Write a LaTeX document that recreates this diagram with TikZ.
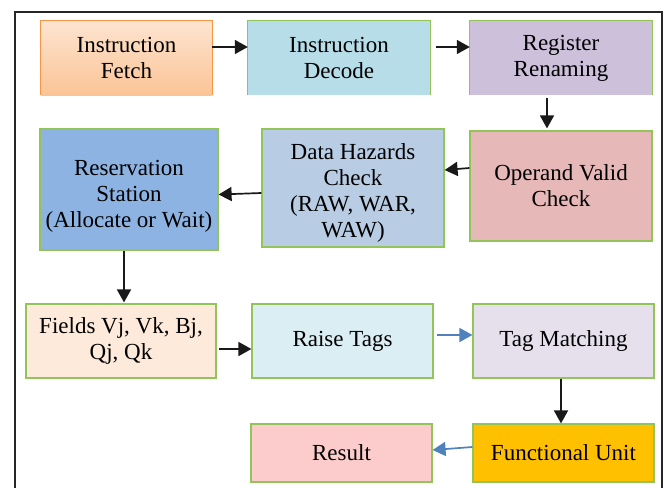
\documentclass[tikz,border=0pt]{standalone}
\usepackage{fontspec}
\setmainfont{Liberation Serif}
\usetikzlibrary{arrows.meta}
\definecolor{bordergreen}{RGB}{146,196,90}
\definecolor{fetchtop}{RGB}{253,228,208}
\definecolor{fetchbot}{RGB}{251,196,150}
\definecolor{fetchborder}{RGB}{247,150,70}
\definecolor{decodefill}{RGB}{183,221,232}
\definecolor{renamefill}{RGB}{204,192,218}
\definecolor{resvfill}{RGB}{141,179,226}
\definecolor{hazfill}{RGB}{184,204,228}
\definecolor{operfill}{RGB}{230,185,184}
\definecolor{fieldsfill}{RGB}{253,234,218}
\definecolor{raisefill}{RGB}{219,238,244}
\definecolor{tagfill}{RGB}{229,224,236}
\definecolor{funcfill}{RGB}{255,192,0}
\definecolor{resultfill}{RGB}{252,204,204}
\definecolor{arrowblue}{RGB}{79,129,189}
\definecolor{arrowblack}{RGB}{25,25,25}
\tikzset{
  txt/.style={align=center, inner sep=0pt, font=\fontsize{23}{26}\selectfont, text=black},
  box/.style={txt, draw=bordergreen, line width=1.2pt},
  openbox/.style={txt, draw=none},
  blk/.style={draw=arrowblack, line width=1.7pt, -{Triangle[length=13pt,width=14pt]}},
  blu/.style={draw=arrowblue, line width=1.7pt, -{Triangle[length=13pt,width=14pt]}},
}
\begin{document}
\begin{tikzpicture}[x=1pt,y=-1pt]
\useasboundingbox (0,0) rectangle (665,488);
\fill[white] (0,0) rectangle (665,488);
% outer frame
\draw[line width=1.2pt, draw=black!85] (15,488) -- (15,12) -- (662,12) -- (662,488);

% row 1 (boxes cut off at the bottom)
\node[openbox, top color=fetchtop, bottom color=fetchbot, minimum width=171pt, minimum height=74pt] (fetch) at (126.5,58) {Instruction\\Fetch};
\draw[fetchborder, line width=1.2pt] (fetch.south west) -- (fetch.north west) -- (fetch.north east) -- (fetch.south east);
\node[openbox, fill=decodefill, minimum width=182pt, minimum height=74pt] (decode) at (339,58) {Instruction\\Decode};
\draw[bordergreen, line width=1.2pt] (decode.south west) -- (decode.north west) -- (decode.north east) -- (decode.south east);
\node[openbox, fill=renamefill, minimum width=182pt, minimum height=74pt] (rename) at (561,58) {Register\\Renaming};
\draw[bordergreen, line width=1.2pt] (rename.south west) -- (rename.north west) -- (rename.north east) -- (rename.south east);

% row 2
\node[box, fill=resvfill, minimum width=178pt, minimum height=121pt] (resv) at (129,189.5) {};
\node[txt] (resvtext) at ([yshift=-7pt]resv.center) {Reservation\\Station\\(Allocate or Wait)};
\node[box, fill=hazfill, minimum width=182pt, minimum height=118pt] (haz) at (353,188) {};
\node[txt] (haztext) at ([yshift=-5pt]haz.center) {Data Hazards\\Check\\(RAW, WAR,\\WAW)};
\node[box, fill=operfill, minimum width=182pt, minimum height=110pt] (oper) at (561,186) {Operand Valid\\Check};

% row 3
\node[box, fill=fieldsfill, minimum width=190pt, minimum height=74pt] (fields) at (121,341) {Fields Vj, Vk, Bj,\\Qj, Qk};
\node[box, fill=raisefill, minimum width=181pt, minimum height=74pt] (raise) at (342.5,341) {Raise Tags};
\node[box, fill=tagfill, minimum width=181pt, minimum height=74pt] (tagm) at (563.5,341) {Tag Matching};

% row 4
\node[box, fill=resultfill, minimum width=181pt, minimum height=58pt] (result) at (341.5,453) {Result};
\node[box, fill=funcfill, minimum width=181pt, minimum height=58pt] (func) at (563.5,453) {Functional Unit};

% connectors
\draw[blk] ([yshift=11pt]fetch.east) -- ([yshift=11pt]decode.west);
\draw[blk] ([xshift=6pt,yshift=11pt]decode.east) -- ([yshift=11pt]rename.west);
\draw[blk] ([xshift=-14pt,yshift=-3pt]rename.south) -- ([xshift=-14pt,yshift=2pt]oper.north);
\draw[blk] ([yshift=18pt]oper.west) -- ([yshift=18pt]haz.east);
\draw[blk] ([yshift=-5pt]haz.west) -- ([yshift=-5pt]resv.east);
\draw[blk] ([xshift=-5pt]resv.south) -- ([xshift=3pt,yshift=1pt]fields.north);
\draw[blk] ([xshift=2pt,yshift=-8pt]fields.east) -- ([yshift=-8pt]raise.west);
\draw[blu] ([xshift=3pt,yshift=6pt]raise.east) -- ([yshift=6pt]tagm.west);
\draw[blk] ([xshift=-2.5pt]tagm.south) -- ([xshift=-2.5pt]func.north);
\draw[blu] ([yshift=6pt]func.west) -- ([yshift=3pt]result.east);
\end{tikzpicture}
\end{document}
